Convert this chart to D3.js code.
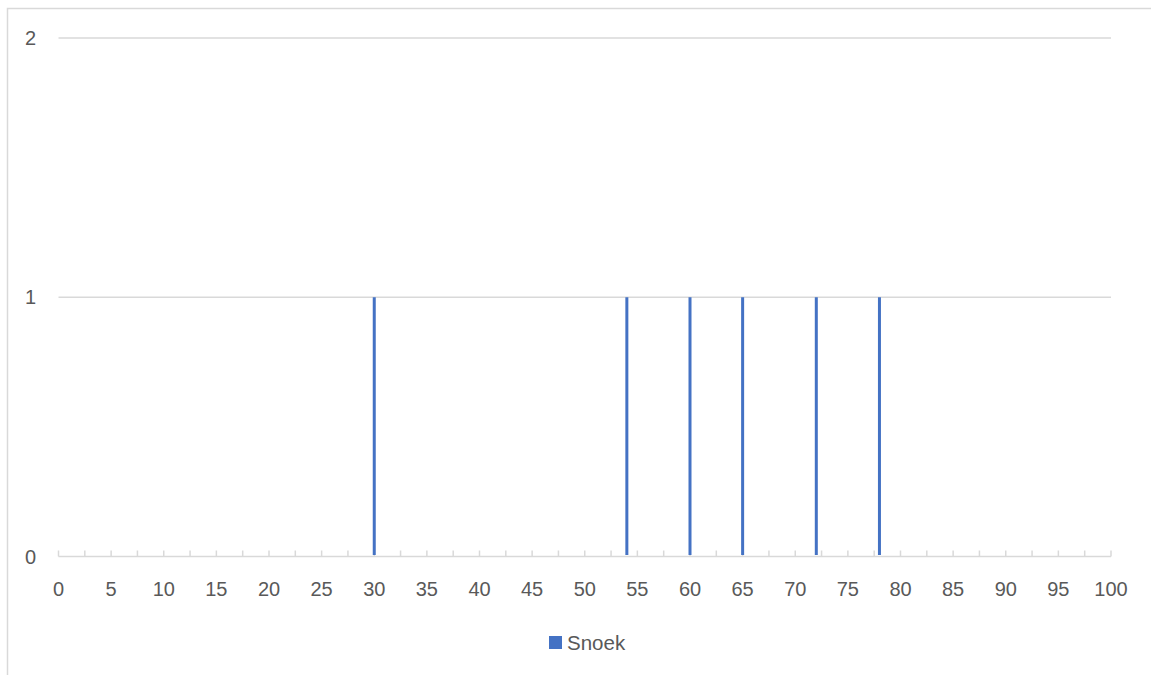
<!DOCTYPE html>
<html>
<head>
<meta charset="utf-8">
<script src="https://cdn.jsdelivr.net/npm/d3@7"></script>
<style>
  html, body { margin: 0; padding: 0; background: #fff; }
  svg { display: block; }
  text { font-family: "Liberation Sans", "DejaVu Sans", sans-serif; fill: #595959; }
</style>
</head>
<body>
<svg id="chart" width="1151" height="675"></svg>
<script>
// Data
const barPositions = [30, 54, 60, 65, 72, 78];
const barValues = [1, 1, 1, 1, 1, 1];
const xTickLabels = [0, 5, 10, 15, 20, 25, 30, 35, 40, 45, 50, 55, 60, 65, 70, 75, 80, 85, 90, 95, 100];
const xMinorTicks = [2.5, 7.5, 12.5, 17.5, 22.5, 27.5, 32.5, 37.5, 42.5, 47.5, 52.5, 57.5, 62.5, 67.5, 72.5, 77.5, 82.5, 87.5, 92.5, 97.5];
const yTickValues = [0, 1, 2];
const seriesName = "Snoek";

const svg = d3.select("#chart");
const grey = "#d9d9d9";
const blue = "#4472C4";

// Chart frame (cropped: only top and left visible)
svg.append("rect")
  .attr("x", 7.5).attr("y", 8.5)
  .attr("width", 1300).attr("height", 800)
  .attr("fill", "none").attr("stroke", grey).attr("stroke-width", 1.5);

const x = d3.scaleLinear().domain([0, 100]).range([58.5, 1111]);
const y = d3.scaleLinear().domain([0, 2]).range([556.5, 38]);

// Gridlines
svg.append("g").selectAll("line").data(yTickValues.filter(d => d > 0)).join("line")
  .attr("x1", x(0)).attr("x2", x(100))
  .attr("y1", d => y(d)).attr("y2", d => y(d))
  .attr("stroke", grey).attr("stroke-width", 1.5);

// Y labels
svg.append("g").selectAll("text").data(yTickValues).join("text")
  .attr("x", 36).attr("y", d => y(d))
  .attr("dy", "0.35em")
  .attr("text-anchor", "end")
  .attr("font-size", 20)
  .text(d => d);

// X axis line
svg.append("line")
  .attr("x1", x(0)).attr("x2", x(100))
  .attr("y1", y(0)).attr("y2", y(0))
  .attr("stroke", grey).attr("stroke-width", 1.5);

// Tick marks (upward)
const allTicks = xTickLabels.concat(xMinorTicks);
svg.append("g").selectAll("line").data(allTicks).join("line")
  .attr("x1", d => x(d)).attr("x2", d => x(d))
  .attr("y1", y(0)).attr("y2", y(0) - 6)
  .attr("stroke", grey).attr("stroke-width", 1.5);

// X labels
svg.append("g").selectAll("text").data(xTickLabels).join("text")
  .attr("x", d => x(d)).attr("y", 596)
  .attr("text-anchor", "middle")
  .attr("font-size", 20)
  .text(d => d);

// Bars
svg.append("g").selectAll("rect").data(barPositions).join("rect")
  .attr("x", d => x(d) - 1.5)
  .attr("y", (d, i) => y(barValues[i]))
  .attr("width", 3)
  .attr("height", (d, i) => y(0) - 1.5 - y(barValues[i]))
  .attr("fill", blue);

// Legend
const lg = svg.append("g");
lg.append("rect").attr("x", 549).attr("y", 636).attr("width", 13).attr("height", 13).attr("fill", blue);
lg.append("text").attr("x", 567).attr("y", 650).attr("font-size", 20.5).text(seriesName);
</script>
</body>
</html>
